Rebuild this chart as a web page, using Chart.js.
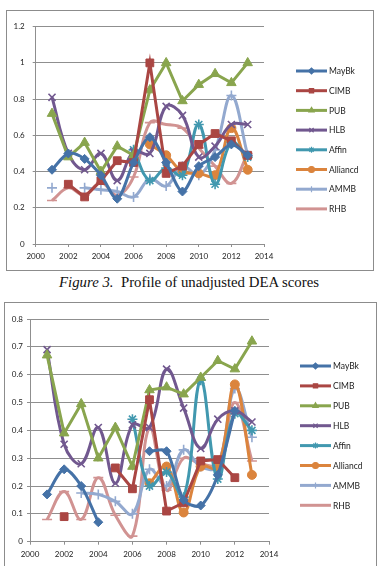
<!DOCTYPE html>
<html>
<head>
<meta charset="utf-8">
<script src="https://cdn.jsdelivr.net/npm/chart.js@4.4.1/dist/chart.umd.min.js"></script>
<style>
  body { margin: 0; background: #fff; width: 378px; height: 566px; overflow: hidden; position: relative; }
  .box { position: absolute; border: 1px solid #8c8c8c; background: #fff; }
  #box1 { left: 6px; top: 10px; width: 366px; height: 259px; }
  #box2 { left: 4px; top: 302px; width: 371px; height: 270px; }
  canvas { position: absolute; left: 0; top: 0; }
  #caption { position: absolute; left: 0; top: 274px; width: 378px; text-align: center;
             font-family: "Liberation Serif", "DejaVu Serif", serif; font-size: 14.8px; color: #111; }
</style>
</head>
<body>
<div class="box" id="box1"><canvas id="chart1" width="366" height="259"></canvas></div>
<div id="caption"><i>Figure 3.</i>&nbsp; Profile of unadjusted DEA scores</div>
<div class="box" id="box2"><canvas id="chart2" width="371" height="264"></canvas></div>
<script>
// years on the x axis
var years = [2001, 2002, 2003, 2004, 2005, 2006, 2007, 2008, 2009, 2010, 2011, 2012, 2013];
var bankNames = ["MayBk", "CIMB", "PUB", "HLB", "Affin", "Alliancd", "AMMB", "RHB"];

// top chart (0 - 1.2)
var mayBkTop    = [0.41, 0.50, 0.47, 0.38, 0.25, 0.45, 0.59, 0.45, 0.29, 0.43, 0.48, 0.55, 0.49];
var cimbTop     = [null, 0.33, 0.26, 0.35, 0.46, 0.45, 1.00, 0.39, 0.43, 0.55, 0.61, 0.57, 0.49];
var pubTop      = [0.72, 0.48, 0.56, 0.40, 0.54, 0.49, 0.85, 1.00, 0.79, 0.88, 0.94, 0.89, 1.00];
var hlbTop      = [0.81, 0.50, 0.41, 0.50, 0.35, 0.51, 0.50, 0.76, 0.71, 0.48, 0.54, 0.66, 0.66];
var affinTop    = [null, null, null, null, null, 0.52, 0.35, 0.42, 0.38, 0.66, 0.33, 0.56, 0.48];
var alliancdTop = [null, null, null, null, null, null, 0.55, 0.49, 0.40, 0.39, 0.38, 0.64, 0.41];
var ammbTop     = [0.31, null, 0.31, 0.30, 0.29, 0.26, 0.36, 0.32, 0.43, 0.38, 0.52, 0.82, 0.49];
var rhbTop      = [0.24, 0.31, 0.27, 0.34, 0.27, 0.37, 0.67, 0.66, 0.64, 0.53, 0.43, 0.335, 0.50];

// bottom chart (0 - 0.8)
var mayBkBot    = [0.17, 0.26, 0.20, 0.07, null, null, 0.325, 0.325, 0.15, 0.13, 0.24, 0.47, null];
var cimbBot     = [null, 0.09, null, null, 0.265, 0.19, 0.51, 0.11, 0.14, 0.29, 0.295, 0.23, null];
var pubBot      = [0.67, 0.39, 0.495, 0.30, 0.41, 0.27, 0.545, 0.555, 0.53, 0.59, 0.65, 0.62, 0.72];
var hlbBot      = [0.69, 0.35, 0.28, 0.41, 0.21, 0.42, 0.41, 0.62, 0.48, 0.335, 0.44, 0.47, 0.43];
var affinBot    = [null, null, null, null, null, 0.44, 0.20, 0.25, 0.16, 0.58, 0.225, 0.46, 0.40];
var alliancdBot = [null, null, null, null, null, null, 0.21, 0.27, 0.105, 0.27, 0.265, 0.565, 0.24];
var ammbBot     = [null, null, 0.175, 0.17, 0.145, 0.10, 0.26, 0.20, 0.33, 0.27, 0.27, 0.55, 0.375];
var rhbBot      = [0.08, 0.18, 0.08, 0.23, 0.095, 0.02, 0.41, 0.185, 0.30, 0.28, 0.28, 0.50, 0.29];

var xTicks = { min: 2000, max: 2014, step: 2 };

var colors  = ["#4572A7", "#AA4643", "#89A54E", "#71588F", "#4198AF", "#DB843D", "#93A9CF", "#D19392"];
var markers = ["rectRot", "rect", "triangle", "crossRot", "star", "circle", "cross", "line"];
var radii   = [4.5, 5.5, 5.5, 5, 5, 4.5, 5, 5];
var tensions = [0.3, 0, 0, 0.4, 0.4, 0.4, 0.4, 0.4];

Chart.defaults.font.family = "Lato, 'Liberation Sans', sans-serif";
Chart.defaults.font.size = 8;
Chart.defaults.color = "#222";

function makeSets(seriesList) {
  return seriesList.map(function (vals, i) {
    return {
      label: bankNames[i],
      data: years.map(function (yr, j) { return { x: yr, y: vals[j] }; }),
      borderColor: colors[i],
      backgroundColor: colors[i],
      borderWidth: 3,
      pointStyle: markers[i],
      pointRadius: radii[i],
      pointBorderWidth: (i == 3 || i == 4 || i == 6 || i == 7) ? 1.6 : 1,
      pointBorderColor: colors[i],
      pointBackgroundColor: colors[i],
      tension: tensions[i],
      spanGaps: false,
      fill: false
    };
  });
}

// legend drawn by hand: line + marker + name
function legendPlugin(lx, ly, gap, len) {
  return {
    id: "xlLegend",
    afterDraw: function (chart) {
      var ctx = chart.ctx;
      chart.data.datasets.forEach(function (ds, i) {
        var y = ly + i * gap;
        ctx.save();
        ctx.strokeStyle = ds.borderColor;
        ctx.lineWidth = 3;
        ctx.beginPath();
        ctx.moveTo(lx, y);
        ctx.lineTo(lx + len, y);
        ctx.stroke();
        if (Chart.helpers && Chart.helpers.drawPoint) {
          ctx.fillStyle = ds.borderColor;
          ctx.lineWidth = 1.2;
          Chart.helpers.drawPoint(ctx, { pointStyle: ds.pointStyle, radius: 3, rotation: 0, borderWidth: 1.2 }, lx + len / 2, y);
        }
        ctx.fillStyle = "#222";
        ctx.font = "8.5px Lato, 'Liberation Sans', sans-serif";
        ctx.textBaseline = "middle";
        ctx.textAlign = "left";
        ctx.fillText(ds.label, lx + len + 2, y + 0.5);
        ctx.restore();
      });
    }
  };
}

function makeChart(id, seriesList, yMax, yStep, cfg) {
  var gridCol = "#8f8f8f";
  return new Chart(document.getElementById(id), {
    type: "line",
    data: { datasets: makeSets(seriesList) },
    options: {
      responsive: false,
      animation: false,
      layout: { padding: { left: 0, top: cfg.top, right: cfg.right, bottom: 0 } },
      plugins: { legend: { display: false }, tooltip: { enabled: false } },
      scales: {
        x: {
          type: "linear",
          min: xTicks.min, max: xTicks.max,
          ticks: { stepSize: xTicks.step, padding: 5, callback: function (v) { return String(v); } },
          grid: { drawOnChartArea: false, drawTicks: true, tickLength: 3, color: gridCol },
          border: { color: gridCol },
          afterFit: function (s) { s.height = cfg.bottom; }
        },
        y: {
          min: 0, max: yMax,
          ticks: { stepSize: yStep, padding: cfg.yPad, callback: function (v) { return String(+v.toFixed(2)); } },
          grid: { color: gridCol, tickLength: 3 },
          border: { color: gridCol },
          afterFit: function (s) { s.width = cfg.left; }
        }
      }
    },
    plugins: [legendPlugin(cfg.lx, cfg.ly, cfg.gap, cfg.len)]
  });
}

makeChart("chart1",
  [mayBkTop, cimbTop, pubTop, hlbTop, affinTop, alliancdTop, ammbTop, rhbTop],
  1.2, 0.2,
  { top: 15.7, right: 109, bottom: 26, left: 28.7, yPad: 8, lx: 289, ly: 60, gap: 19.7, len: 31 });

makeChart("chart2",
  [mayBkBot, cimbBot, pubBot, hlbBot, affinBot, alliancdBot, ammbBot, rhbBot],
  0.8, 0.1,
  { top: 16, right: 107, bottom: 25.3, left: 25, yPad: 4, lx: 295, ly: 63, gap: 19.9, len: 31 });
</script>
</body>
</html>
